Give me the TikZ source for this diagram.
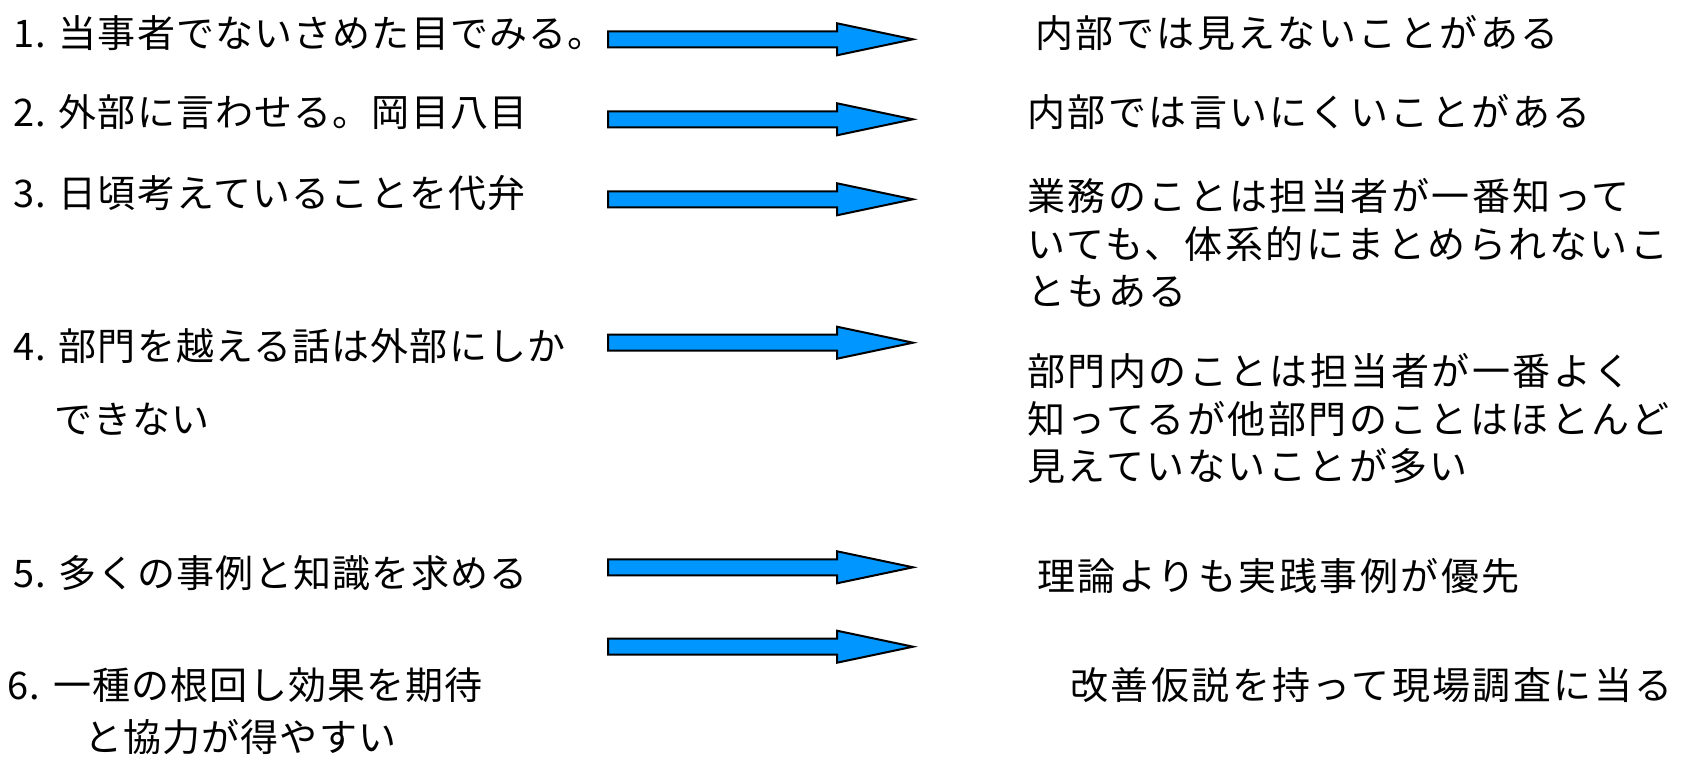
\documentclass[tikz,border=0pt]{standalone}
\usepackage{fontspec}
\setmainfont{Noto Sans CJK JP}
\newfontfamily\leftfont{Noto Sans CJK JP}[LetterSpace=3]
\newfontfamily\rightfont{Noto Sans CJK JP}[LetterSpace=6.5]
\definecolor{arrowblue}{RGB}{0,150,255}
\tikzset{
  lbl/.style={anchor=base west, inner sep=0pt, font=\leftfont\fontsize{38}{44}\selectfont},
  rlbl/.style={anchor=base west, inner sep=0pt, font=\rightfont\fontsize{38}{44}\selectfont},
  blockarrow/.style={draw=black, line width=2pt, fill=arrowblue, line join=miter},
}
\newcommand\bigarrow[2]{%
  \coordinate (#1) at (760,#2);
  \draw[blockarrow] (608,#2-8) -- (837,#2-8) -- (837,#2-16) -- (913,#2)
    -- (837,#2+16) -- (837,#2+8) -- (608,#2+8) -- cycle;}
\begin{document}
\begin{tikzpicture}[x=1pt,y=-1pt]
\fill[white] (0,0) rectangle (1691,757);
\useasboundingbox (0,0) rectangle (1691,757);
% left column
\node[lbl] (l1) at (13,48) {1. 当事者でないさめた目でみる。};
\node[lbl] (l2) at (13,126.5) {2. 外部に言わせる。岡目八目};
\node[lbl] (l3) at (13,207.5) {3. 日頃考えていることを代弁};
\node[lbl] (l4) at (13,360.5) {4. 部門を越える話は外部にしか};
\node[lbl] (l4b) at (54,433) {できない};
\node[lbl] (l5) at (13,587.5) {5. 多くの事例と知識を求める};
\node[lbl] (l6) at (7.5,699.5) {6. 一種の根回し効果を期待};
\node[lbl] (l6b) at (84,751) {と協力が得やすい};
% arrows
\bigarrow{a1}{39.3}
\bigarrow{a2}{119.3}
\bigarrow{a3}{199.3}
\bigarrow{a4}{342.7}
\bigarrow{a5}{567.3}
\bigarrow{a6}{646.7}
% right column
\node[rlbl] (r1) at (1035,48) {内部では見えないことがある};
\node[rlbl] (r2) at (1027,126.5) {内部では言いにくいことがある};
\node[rlbl] (r3a) at (1027,210.5) {業務のことは担当者が一番知って};
\node[rlbl] (r3b) at (1027,258.5) {いても、体系的にまとめられないこ};
\node[rlbl] (r3c) at (1027,305.5) {ともある};
\node[rlbl] (r4a) at (1027,385.5) {部門内のことは担当者が一番よく};
\node[rlbl] (r4b) at (1027,433) {知ってるが他部門のことはほとんど};
\node[rlbl] (r4c) at (1027,480.5) {見えていないことが多い};
\node[rlbl] (r5) at (1037,590.5) {理論よりも実践事例が優先};
\node[rlbl] (r6) at (1070,699.5) {改善仮説を持って現場調査に当る};
\end{tikzpicture}
\end{document}
